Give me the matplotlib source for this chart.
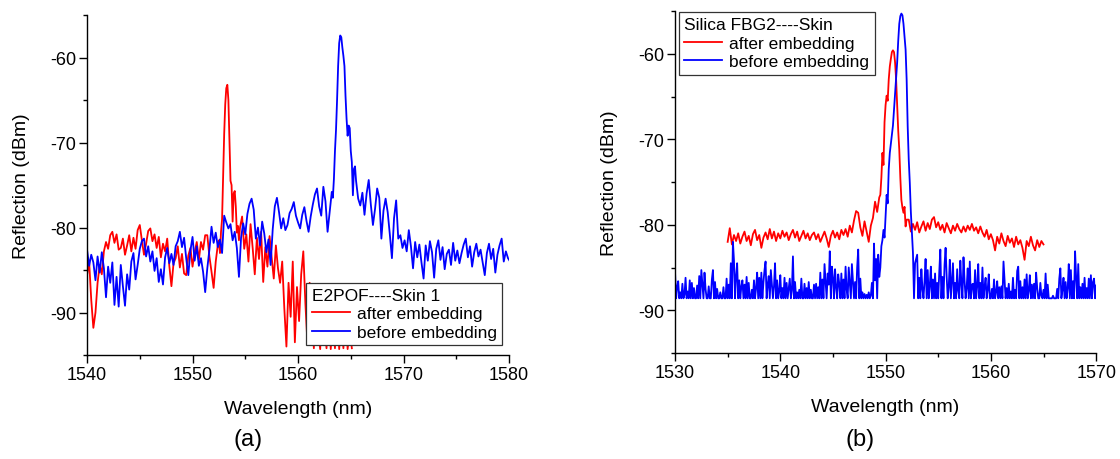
import matplotlib

matplotlib.use("Agg")
import matplotlib.pyplot as plt
import numpy as np
from matplotlib.ticker import MultipleLocator

plt.rcParams["font.family"] = ["Liberation Sans", "DejaVu Sans"]
plt.rcParams["axes.unicode_minus"] = False

# ---- panel (a): E2POF ----  values in dBm, each block = (start nm, step nm, values)
a_after_start = [
    -85.6, -84.0, -88.5, -91.8, -90.0, -86.5, -84.4, -85.5, -82.8, -81.7,
    -82.5, -80.9, -80.5, -81.8, -80.8, -82.6, -82.4, -81.3, -83.2, -82.1,
    -80.9, -82.8, -81.2, -82.5, -80.3, -79.7, -81.5, -83.2, -81.9, -80.4,
    -80.1, -81.6, -80.8, -82.4, -81.1, -83.5, -81.9, -82.8, -81.3, -84.5,
    -86.9, -84.2, -83.6, -82.2, -84.7, -83.1, -85.4, -85.6, -83.3, -82.4,
    -84.6, -82.9, -81.7, -83.8, -81.7, -82.6, -80.9, -80.9, -83.4, -85.2,
    -87.1, -84.0, -82.0,
]
a_after_peak = [
    -81.5, -83.0, -80.5, -79.0, -74.0, -69.0, -65.5, -63.6, -63.2, -65.0,
    -70.0, -74.5, -75.0, -79.3, -76.0, -75.7, -77.5, -80.6, -79.8, -81.5,
    -80.0,
]
a_after_end = [
    -78.7, -82.5, -80.8, -84.0, -79.6, -82.4, -85.5, -81.2, -83.7, -80.5,
    -86.4, -82.3, -84.6, -81.0, -83.5, -86.0, -82.1, -84.8, -86.5, -84.0,
    -89.5, -94.0, -86.5, -90.5, -84.0, -93.5, -87.0, -91.0, -85.5, -82.8,
    -89.0, -93.8, -86.5, -90.0, -94.2, -87.5, -92.0, -94.3, -88.0, -91.5,
    -94.2, -89.0, -94.3, -90.5, -94.2, -88.5, -94.3, -91.0, -94.2, -89.5,
    -94.3, -92.0, -94.2,
]
a_before_start = [
    -82.6, -84.5, -83.2, -84.1, -86.2, -83.4, -85.3, -82.9, -84.8, -88.2,
    -84.6, -86.5, -84.1, -89.1, -85.8, -89.3, -84.4, -86.9, -89.2, -85.5,
    -87.3, -84.0, -83.0, -86.1, -84.4, -82.5, -81.6, -81.3, -83.4, -82.2,
    -84.0, -82.8, -85.1, -83.6, -86.4, -84.9, -86.7, -83.5, -82.4, -84.2,
    -83.1, -84.4, -82.2, -81.6, -80.5, -82.3, -81.2, -83.6, -85.6, -82.7,
    -81.1, -83.9, -82.2, -84.5, -83.6, -85.2, -87.6, -84.8, -82.6, -79.9,
    -81.8, -80.6, -82.3, -81.4, -83.0, -78.6, -79.4, -80.1, -79.6, -81.5,
    -80.5, -82.4, -85.8, -81.2, -79.5, -80.8, -78.4, -77.2, -76.6, -77.9,
    -81.3, -80.0, -82.1, -79.3, -80.7, -82.9, -81.4, -84.4, -80.2, -77.5,
    -76.5, -78.2, -80.1, -78.9, -80.3, -79.7, -78.3, -77.8, -77.0, -78.6,
    -79.4, -80.1, -78.5, -77.6, -79.2, -80.5, -78.7, -77.3, -76.1, -75.4,
    -77.5, -78.6, -75.2, -76.9, -80.5, -78.1, -75.8,
]
a_before_peak = [
    -76.5, -74.3, -71.0, -68.5, -65.0, -61.0, -58.3, -57.4, -57.6, -58.8,
    -59.8, -61.0, -64.5, -67.2, -69.2, -68.0, -68.3, -71.0, -72.3, -76.2,
    -73.1, -72.8, -74.5,
]
a_before_end = [
    -76.6, -77.4, -75.9, -78.5, -76.0, -74.4, -77.3, -79.7, -77.8, -75.4,
    -76.5, -81.3, -78.0, -76.6, -78.2, -80.8, -83.6, -78.9, -76.8, -81.3,
    -80.9, -82.4, -81.5, -82.8, -80.3, -82.2, -84.8, -81.7, -83.5, -82.0,
    -84.1, -86.0, -82.1, -83.9, -81.6, -82.9, -85.9, -82.5, -81.5, -83.8,
    -82.3, -84.9, -83.1, -82.6, -84.4, -81.8, -83.9, -82.7, -84.2, -83.0,
    -82.0, -81.3, -83.5, -82.2, -84.6, -82.9, -81.9, -83.4, -82.6, -84.1,
    -85.6, -83.0, -81.9, -83.7, -82.5, -85.3, -83.2, -82.1, -81.3, -84.0,
    -82.8, -83.6, -84.0,
]

# ---- panel (b): silica FBG2 ----
b_after_start = [
    -82.0, -80.4, -82.3, -81.2, -81.9, -81.0, -82.2, -81.4, -80.8, -81.9,
    -81.3, -82.4, -81.1, -80.6, -81.8, -81.2, -82.7, -81.5, -80.9, -81.7,
    -80.5, -81.6, -80.8, -81.9, -81.0, -81.6, -80.7, -81.4, -80.9, -81.8,
    -81.1, -80.6, -81.5, -80.8, -81.9, -81.3, -80.7, -81.6, -81.0, -81.8,
    -81.2, -80.9, -81.7, -81.1, -82.0, -81.4, -80.8, -81.6, -82.6, -81.3,
    -80.7, -81.5, -80.9, -81.7, -80.6, -81.2, -80.5, -81.4, -80.1, -80.9,
    -79.5, -78.4, -78.6, -80.3, -81.3, -79.6, -80.8, -82.0, -80.1, -79.2,
    -77.3, -78.5, -76.8,
]
b_after_peak = [
    -76.5, -74.5, -71.6, -73.0, -68.0, -66.0, -64.9, -65.5, -63.0, -61.5,
    -60.6, -59.8, -59.6, -59.8, -61.0, -63.0, -66.1, -69.0, -71.2, -74.5,
    -77.1, -78.0, -78.6, -77.9, -80.2, -79.4,
]
b_after_end = [
    -79.4, -80.8, -79.9, -80.6, -79.7, -80.9, -80.2, -79.6, -80.7, -79.8,
    -80.5, -79.4, -79.1, -80.3, -79.7, -80.6, -80.0, -80.9, -79.8, -80.4,
    -81.0, -80.1, -80.7, -79.9, -80.5, -80.9, -80.2, -80.8, -80.1, -80.6,
    -79.9, -80.7, -80.3, -81.0, -80.2, -80.9, -81.4, -80.6, -81.7, -81.1,
    -81.8, -83.0, -81.4, -82.2, -81.0, -81.9, -82.5, -81.3, -82.1, -81.6,
    -82.6, -81.4, -82.3, -81.8, -82.7, -84.1, -81.9, -82.5, -81.4, -82.4,
    -83.0, -81.8, -82.6, -81.9, -82.3,
]
# one row = 1 nm at 0.1 nm steps
b_before_start = [
    -85.5, -88.6, -87.3, -86.6, -88.6, -87.9, -88.6, -86.9, -88.6, -88.2,
    -86.2, -88.6, -87.8, -88.6, -86.5, -88.6, -86.8, -88.6, -87.4, -88.6,
    -88.6, -87.1, -88.6, -86.0, -88.6, -85.3, -86.9, -88.6, -85.6, -87.5,
    -88.6, -88.6, -87.2, -88.6, -88.6, -86.4, -85.3, -88.6, -86.7, -88.6,
    -87.5, -88.6, -88.6, -87.9, -88.6, -88.6, -87.3, -88.6, -88.6, -86.3,
    -88.6, -87.0, -88.6, -84.5, -88.6, -82.0, -84.2, -88.6, -86.0, -84.5,
    -88.6, -86.5, -88.6, -87.2, -86.5, -88.6, -87.0, -88.6, -86.1, -88.6,
    -86.8, -88.6, -88.6, -87.6, -88.6, -86.5, -88.6, -87.4, -85.6, -88.6,
    -86.2, -88.6, -85.6, -88.6, -86.7, -85.3, -84.3, -88.6, -87.0, -86.0,
    -88.6, -85.3, -86.9, -88.6, -87.2, -84.5, -88.6, -86.5, -88.6, -87.8,
    -85.9, -88.6, -87.4, -88.6, -86.2, -88.6, -86.8, -88.6, -87.5, -86.3,
    -88.6, -87.7, -83.7, -88.6, -86.7, -88.6, -87.9, -88.6, -87.6, -88.6,
    -86.3, -88.6, -88.6, -86.9, -88.6, -87.4, -88.6, -86.7, -88.6, -87.6,
    -88.6, -88.6, -87.0, -88.6, -86.9, -88.6, -87.3, -88.6, -85.6, -88.6,
    -86.4, -88.6, -84.6, -86.5, -88.6, -85.7, -87.0, -83.1, -88.6, -84.9,
    -86.2, -88.6, -85.2, -87.3, -88.6, -85.8, -86.9, -88.6, -85.7, -88.6,
    -86.4, -88.6, -84.9, -87.6, -88.6, -85.0, -86.9, -88.6, -84.6, -86.5,
    -88.6, -86.7, -88.6, -85.0, -82.9, -88.6, -86.3, -88.6, -87.9, -88.6,
    -88.1, -88.6, -88.2, -88.6, -87.9, -88.6, -88.3, -86.8, -88.6, -82.2,
    -86.5, -84.0, -88.6, -83.5, -86.1,
]
b_before_peak = [
    -85.0, -82.5, -81.8, -80.6, -81.5, -79.0, -76.5, -77.5, -73.5, -71.6,
    -70.5, -69.5, -68.4, -66.5, -64.5, -62.5, -61.0, -58.5, -56.5, -55.6,
    -55.3, -55.5, -56.5, -58.0, -59.5, -63.0, -68.5, -72.4, -75.1, -78.5,
    -81.0, -83.3, -88.6, -84.5,
]
b_before_end = [
    -83.5, -88.6, -86.2, -88.6, -85.2, -87.5, -88.6, -86.6, -84.0, -88.6,
    -85.3, -88.6, -87.1, -84.9, -88.6, -86.4, -88.6, -85.7, -88.6, -86.8,
    -88.6, -85.5, -82.9, -88.6, -86.1, -88.6, -84.7, -82.7, -86.0, -88.6,
    -87.3, -84.1, -88.6, -86.6, -84.5, -88.6, -86.8, -88.6, -85.2, -87.7,
    -88.6, -84.2, -86.9, -88.6, -83.8, -86.5, -88.6, -87.4, -85.1, -88.6,
    -84.3, -88.6, -87.0, -86.9, -88.6, -85.3, -88.6, -87.2, -84.6, -88.6,
    -86.8, -88.6, -85.0, -88.6, -87.3, -86.2, -88.6, -87.6, -85.8, -88.6,
    -88.6, -87.5, -88.6, -86.4, -88.6, -87.9, -86.6, -88.6, -87.3, -88.6,
    -87.2, -88.6, -84.3, -86.5, -88.6, -87.4, -88.6, -86.9, -88.6, -87.8,
    -88.6, -86.2, -88.6, -87.6, -88.6, -85.4, -84.9, -88.6, -86.6, -88.6,
    -87.3, -88.6, -86.4, -88.6, -85.8, -88.6, -87.7, -85.9, -88.6, -87.0,
    -88.6, -86.9, -88.6, -85.6, -87.4, -88.6, -88.6, -86.8, -88.3, -88.6,
    -87.6, -88.6, -85.7, -88.6, -87.0, -88.6, -88.6, -88.6, -88.6, -88.3,
    -88.6, -88.6, -88.6, -87.5, -88.6, -86.3, -85.1, -88.6, -87.6, -86.2,
    -88.6, -86.7, -88.6, -87.4, -84.6, -88.6, -85.3, -88.6, -86.6, -88.6,
    -83.1, -86.2, -88.6, -84.6, -88.6, -87.3, -88.6, -86.9, -88.6, -86.2,
    -88.6, -87.4, -88.6, -86.3, -88.6, -85.9, -88.6, -86.7, -86.3, -88.6,
    -87.1,
]

RED = "#ff0000"
BLUE = "#0000ff"


def stitch(*segments):
    wavelengths, levels = [], []
    for start, step, values in segments:
        wavelengths.extend(start + step * np.arange(len(values)))
        levels.extend(values)
    return np.array(wavelengths), np.array(levels)


def style_axes(ax, xlim, xmajor):
    ax.set_xlim(*xlim)
    ax.set_ylim(-95, -55)
    ax.xaxis.set_major_locator(MultipleLocator(xmajor))
    ax.xaxis.set_minor_locator(MultipleLocator(xmajor / 2))
    ax.yaxis.set_major_locator(MultipleLocator(10))
    ax.yaxis.set_minor_locator(MultipleLocator(5))
    ax.spines["top"].set_visible(False)
    ax.spines["right"].set_visible(False)
    for side in ("left", "bottom"):
        ax.spines[side].set_linewidth(1.0)
    ax.tick_params(which="major", direction="out", length=5.5, width=1.0,
                   labelsize=13, pad=2.5)
    ax.tick_params(which="minor", direction="out", length=3, width=1.0)
    ax.set_xlabel("Wavelength (nm)", fontsize=14, labelpad=12)
    ax.set_ylabel("Reflection (dBm)", fontsize=14, labelpad=14)


def add_legend(ax, title, **kw):
    leg = ax.legend(title=title, fontsize=12.5, title_fontsize=12.5,
                    frameon=True, fancybox=False, framealpha=1,
                    handlelength=2.2, handletextpad=0.4, labelspacing=0.2,
                    borderpad=0.3, borderaxespad=0, **kw)
    leg._legend_box.align = "left"
    frame = leg.get_frame()
    frame.set_edgecolor("#333333")
    frame.set_linewidth(0.9)
    return leg


fig = plt.figure(figsize=(11.2, 4.6), dpi=100)
ax_a = fig.add_axes([0.0777, 0.226, 0.3768, 0.739])
ax_b = fig.add_axes([0.6027, 0.2304, 0.376, 0.7435])

wl, lvl = stitch((1540.0, 0.2, a_after_start), (1552.5, 0.1, a_after_peak),
                 (1554.7, 0.2, a_after_end))
ax_a.plot(wl, lvl, color=RED, lw=1.3, label="after embedding")
wl, lvl = stitch((1540.0, 0.2, a_before_start), (1563.3, 0.1, a_before_peak),
                 (1565.7, 0.2, a_before_end))
ax_a.plot(wl, lvl, color=BLUE, lw=1.3, label="before embedding")
style_axes(ax_a, (1540, 1580), 10)
add_legend(ax_a, "E2POF----Skin 1", loc="lower right",
           bbox_to_anchor=(0.983, 0.029))

wl, lvl = stitch((1535.0, 0.2, b_after_start), (1549.5, 0.1, b_after_peak),
                 (1552.2, 0.2, b_after_end))
ax_b.plot(wl, lvl, color=RED, lw=1.3, label="after embedding")
wl, lvl = stitch((1530.0, 0.1, b_before_start), (1549.5, 0.1, b_before_peak),
                 (1553.0, 0.1, b_before_end))
ax_b.plot(wl, lvl, color=BLUE, lw=1.3, label="before embedding")
style_axes(ax_b, (1530, 1570), 10)
add_legend(ax_b, "Silica FBG2----Skin", loc="upper left",
           bbox_to_anchor=(0.0095, 0.997))

fig.text(248 / 1120, 1 - 440 / 460, "(a)", fontsize=17, ha="center", va="center")
fig.text(860 / 1120, 1 - 440 / 460, "(b)", fontsize=17, ha="center", va="center")

fig.savefig("out.png", dpi=100)
